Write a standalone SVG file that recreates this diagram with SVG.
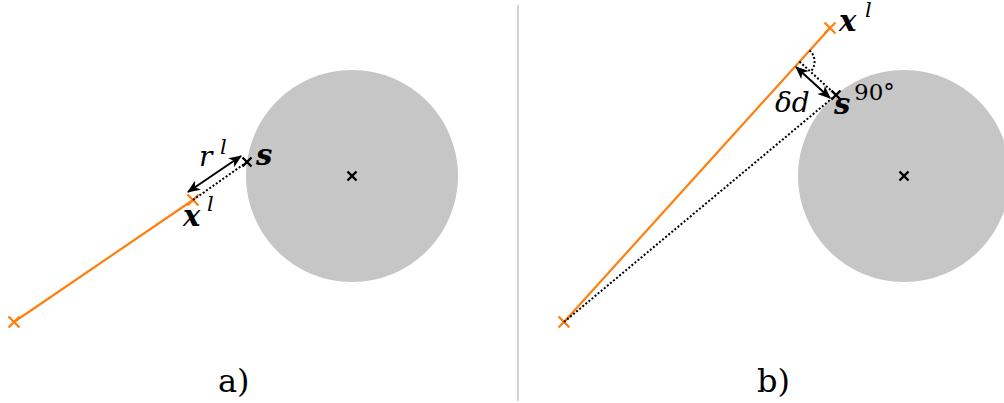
<svg xmlns="http://www.w3.org/2000/svg" width="1004" height="403" viewBox="0 0 1004 403">
<defs>
<marker id="ah" viewBox="0 0 12 10" refX="11" refY="5" markerWidth="13" markerHeight="11" orient="auto-start-reverse" markerUnits="userSpaceOnUse">
<path d="M0,0 L12,5 L0,10 L3,5 Z" fill="#000"/>
</marker>
<style>
.circ{fill:#c6c6c6}
.or{stroke:#ff7f0e;stroke-width:2.2;fill:none}
.ox{stroke:#ff7f0e;stroke-width:2.2}
.bx{stroke:#000;stroke-width:2.4}
.dot{stroke:#000;stroke-width:2;stroke-dasharray:2 2;fill:none}
.arr{stroke:#000;stroke-width:2;fill:none}
.m{font-family:"DejaVu Serif","Liberation Serif",serif;font-style:italic;font-weight:bold;fill:#000}
.r{font-family:"DejaVu Serif","Liberation Serif",serif;fill:#000}
.ri{font-family:"DejaVu Serif","Liberation Serif",serif;font-style:italic;fill:#000}
</style>
</defs>
<rect width="1004" height="403" fill="#fff"/>
<line x1="518" y1="5" x2="518" y2="401" stroke="#aaa" stroke-width="1"/>

<g id="panel-a">
<g id="obstacle-a"><circle class="circ" cx="352" cy="176" r="106"/><path class="bx" d="M347.5,171.5 l9,9 M356.5,171.5 l-9,9"/></g>
<g id="start-a"><path class="ox" d="M8.5,316.5 l11,11 M19.5,316.5 l-11,11"/></g>
<g id="xl-a"><path class="ox" d="M187.5,194.5 l11,11 M198.5,194.5 l-11,11"/>
<text class="m" x="183" y="226" font-size="29">x</text><text class="ri" x="207" y="211" font-size="21">l</text></g>
<g id="s-a"><path class="bx" d="M242.5,157.5 l9,9 M251.5,157.5 l-9,9"/>
<text class="m" x="256" y="165" font-size="29">s</text></g>
<g id="rl-label"><text class="ri" x="199" y="166" font-size="28">r</text><text class="ri" x="220" y="154" font-size="21">l</text></g>
<text id="label-a" class="r" x="218" y="392" font-size="32">a)</text>
</g>

<g id="panel-b">
<g id="obstacle-b"><circle class="circ" cx="904" cy="176" r="106"/><path class="bx" d="M899.5,171.5 l9,9 M908.5,171.5 l-9,9"/></g>
<g id="start-b"><path class="ox" d="M558.5,316.5 l11,11 M569.5,316.5 l-11,11"/></g>
<g id="xl-b"><path class="ox" d="M824.5,22.5 l11,11 M835.5,22.5 l-11,11"/>
<text class="m" x="839" y="31" font-size="29">x</text><text class="ri" x="865" y="17" font-size="21">l</text></g>
<g id="s90"><path class="bx" d="M831.5,90.5 l9,9 M840.5,90.5 l-9,9"/>
<text class="m" x="834" y="114" font-size="29">s</text><text class="r" x="854" y="100" font-size="23">90°</text></g>
<g id="dd-label"><text class="ri" x="775" y="112" font-size="28">δd</text></g>
<text id="label-b" class="r" x="757" y="392" font-size="32">b)</text>
</g>

<g id="connectors">
<line class="or" x1="14" y1="322" x2="193" y2="200"/>
<line class="dot" x1="193" y1="200" x2="247" y2="162"/>
<line class="arr" x1="188" y1="192" x2="241" y2="156" marker-start="url(#ah)" marker-end="url(#ah)"/>
<line class="or" x1="564" y1="322" x2="830" y2="28"/>
<line class="dot" x1="564" y1="322" x2="836" y2="95"/>
<line class="dot" x1="799.5" y1="61.6" x2="836" y2="95"/>
<path class="dot" d="M809.6,50.4 A15,15 0 0 1 810.6,71.7"/>
<line class="arr" x1="796" y1="67" x2="830" y2="98" marker-start="url(#ah)" marker-end="url(#ah)"/>
</g>
</svg>
